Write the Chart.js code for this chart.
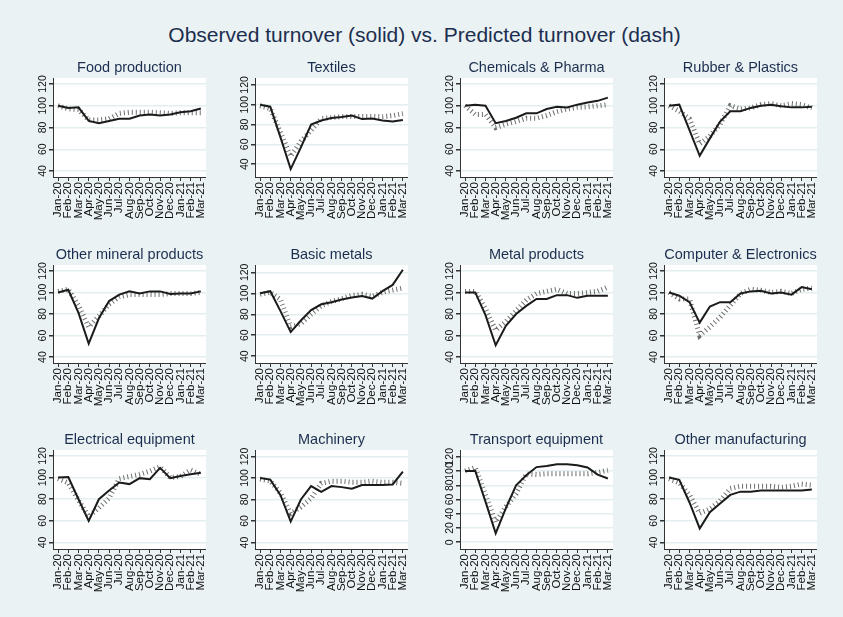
<!DOCTYPE html>
<html>
<head>
<meta charset="utf-8">
<title>Observed vs predicted turnover</title>
<script src="https://cdn.jsdelivr.net/npm/chart.js"></script>
<style>
  html, body { margin: 0; padding: 0; }
  body {
    width: 843px; height: 617px; position: relative; overflow: hidden;
    background: #eaf2f3;
    font-family: "Liberation Sans", Arial, sans-serif;
  }
  #title {
    position: absolute; left: 0; top: 23px; width: 849px;
    text-align: center; font-size: 21px; color: #1c2e4f;
  }
  canvas { position: absolute; }
</style>
</head>
<body>
<div id="title">Observed turnover (solid) vs. Predicted turnover (dash)</div>
<script>
// months on the x axis
const months = ["Jan-20", "Feb-20", "Mar-20", "Apr-20", "May-20", "Jun-20", "Jul-20",
  "Aug-20", "Sep-20", "Oct-20", "Nov-20", "Dec-20", "Jan-21", "Feb-21", "Mar-21"];

const sectors = ["Food production", "Textiles", "Chemicals & Pharma", "Rubber & Plastics",
  "Other mineral products", "Basic metals", "Metal products", "Computer & Electronics",
  "Electrical equipment", "Machinery", "Transport equipment", "Other manufacturing"];

// observed turnover (solid)
const foodObs = [100, 98, 98.5, 86, 84, 86, 88, 88, 91, 92, 91, 92, 94, 95, 97.5];
const textObs = [100, 98, 67, 35, 57, 80, 84, 86.5, 87.5, 89, 85.5, 86, 84, 83, 84.5];
const chemObs = [100, 101, 100, 84, 86, 89, 93, 93, 97, 99, 98.5, 101, 103, 104.5, 107.5];
const rubbObs = [100, 101, 77.5, 54, 70, 85.5, 95, 95, 98, 100, 101, 99.5, 98.5, 98.5, 99];
const mineObs = [100, 102.5, 81, 52.5, 76, 92, 98, 101, 99, 101, 101, 98.5, 99, 99, 101];
const basiObs = [100, 102, 83, 63, 74, 84, 89.5, 91.5, 94, 96, 97.5, 95, 102, 108, 122.5];
const metaObs = [100, 100, 79, 51, 69, 80, 87.5, 94, 94, 97.5, 97.5, 95, 97, 97, 97];
const compObs = [100, 97, 91, 72, 87, 91, 91, 99, 101, 101.5, 99, 100, 98, 105, 103];
const elecObs = [100, 100.5, 80, 60, 80, 88, 95.5, 94, 99.5, 98.5, 109, 99.5, 101.5, 103, 104.5];
const machObs = [100, 98.5, 84, 59.5, 80, 92.5, 87, 92.5, 91.5, 90, 93.5, 93.5, 93.5, 94, 106];
const tranObs = [100, 100, 57, 12.5, 48, 80, 94, 105.5, 107, 109.5, 109.5, 108, 105, 95, 89.5];
const otheObs = [100, 98, 77, 53, 68, 76, 84, 87, 87, 88, 88, 88, 88, 88, 89];

// predicted turnover (dash)
const foodPred = [100, 97, 96.5, 87, 87, 88, 93, 94, 94, 94, 93.5, 93, 93.5, 93.5, 93.5];
const textPred = [99, 96, 72, 48, 63, 74, 86, 87, 88, 88, 88, 88, 88, 89, 91];
const chemPred = [100, 92, 92, 80, 83, 85.5, 88.5, 88.5, 91, 94.5, 97, 98.5, 99, 100, 101];
const rubbPred = [100, 95, 88, 65, 72, 83, 100, 97, 98, 101, 102, 100, 102, 101, 98];
const minePred = [101, 103, 88, 68, 78, 89, 96, 98, 98, 98, 98, 99, 99, 99, 100];
const basiPred = [99, 101, 94, 68, 71, 80, 88, 92, 95, 98, 99, 97, 101, 103, 105];
const metaPred = [101, 101, 85, 65, 73, 83, 93, 99, 101, 103, 99, 99, 100, 101, 105];
const compPred = [100, 94, 94, 60, 68, 77, 88, 99, 103, 102, 100, 101, 99, 103, 104];
const elecPred = [99, 95, 79, 64, 72, 81, 99, 101, 103, 106, 110, 100, 101, 107, 103];
const machPred = [99, 97, 86, 67, 73, 81, 95, 97, 97, 96, 96, 97, 96, 96, 95];
const tranPred = [100, 105, 67, 28, 50, 68, 96, 95, 96, 96, 96, 96, 96, 98, 101];
const othePred = [99, 95, 84, 67, 71, 78.5, 90, 92, 92, 92, 92, 91, 92, 94, 93];

// y tick labels
const yTicksStd = [40, 60, 80, 100, 120];
const yTicksTransport = [0, 20, 40, 60, 80, 100, 120];

const observed = [foodObs, textObs, chemObs, rubbObs, mineObs, basiObs,
  metaObs, compObs, elecObs, machObs, tranObs, otheObs];
const predicted = [foodPred, textPred, chemPred, rubbPred, minePred, basiPred,
  metaPred, compPred, elecPred, machPred, tranPred, othePred];

// axis ranges (Stata pads a bit beyond the labels)
const yRange = [[34.5, 125.5], [27, 127], [34.5, 125.5], [34.5, 125.5],
  [34.5, 125.5], [33.5, 127], [34.5, 125.5], [34.5, 125.5],
  [34, 125.5], [34, 126], [-9.5, 129.5], [34, 125.5]];

const FONT = '"Liberation Sans", Arial, sans-serif';
const colLeft = [53, 255, 460, 664];
const rowTop = [78, 265, 450];
const rowH = [99, 98, 99];
const PLOT_W = 160, Y_AXIS_W = 20, X_AXIS_H = 46, TITLE_H = 19;

// white plot region like Stata
const whitePlot = {
  id: 'whitePlot',
  beforeDraw(chart) {
    const a = chart.chartArea, ctx = chart.ctx;
    ctx.save();
    ctx.fillStyle = '#ffffff';
    ctx.fillRect(a.left, a.top, a.right - a.left, a.bottom - a.top);
    ctx.restore();
  }
};

function makePanel(i) {
  const col = i % 4, row = Math.floor(i / 4);
  const cv = document.createElement('canvas');
  cv.width = Y_AXIS_W + PLOT_W + 3;
  cv.height = TITLE_H + rowH[row] + X_AXIS_H;
  cv.style.left = (colLeft[col] - Y_AXIS_W) + 'px';
  cv.style.top = (rowTop[row] - TITLE_H) + 'px';
  document.body.appendChild(cv);

  const yt = i == 10 ? yTicksTransport : yTicksStd;

  new Chart(cv, {
    type: 'line',
    data: {
      labels: months,
      datasets: [{
        data: observed[i],
        borderColor: '#1b1b1b',
        borderWidth: 2,
        pointRadius: 0,
        tension: 0
      }, {
        data: predicted[i],
        borderColor: '#6e6e6e',
        borderWidth: 5,
        borderDash: [1, 3],
        pointRadius: 0,
        tension: 0
      }]
    },
    options: {
      responsive: false,
      animation: false,
      events: [],
      layout: { padding: { left: 0, right: 3, top: 0, bottom: 0 } },
      plugins: {
        legend: { display: false },
        tooltip: { enabled: false },
        title: {
          display: true,
          text: sectors[i],
          fullSize: false,
          color: '#1c2e4f',
          font: { size: 14.5, family: FONT, weight: 'normal' },
          padding: { top: 0, bottom: 1.6 }
        }
      },
      scales: {
        x: {
          type: 'category',
          offset: true,
          grid: { display: true, drawOnChartArea: false, offset: false, tickLength: 4, tickColor: '#333' },
          border: { color: '#333', width: 1 },
          ticks: { autoSkip: false, minRotation: 90, maxRotation: 90, padding: 1, color: '#111',
            font: { size: 11.5, family: FONT } },
          afterFit: s => { s.height = X_AXIS_H; }
        },
        y: {
          min: yRange[i][0],
          max: yRange[i][1],
          afterBuildTicks: s => { s.ticks = yt.map(v => ({ value: v })); },
          grid: { color: '#e4eef0', lineWidth: 1.5, tickLength: 4, tickColor: '#333' },
          border: { color: '#333', width: 1 },
          ticks: { autoSkip: false, minRotation: 90, maxRotation: 90, crossAlign: 'center', padding: -2.5,
            color: '#111', font: { size: 10.5, family: FONT } },
          afterFit: s => { s.width = Y_AXIS_W; }
        }
      }
    },
    plugins: [whitePlot]
  });
}

for (let i = 0; i < sectors.length; i++) makePanel(i);
</script>
</body>
</html>
